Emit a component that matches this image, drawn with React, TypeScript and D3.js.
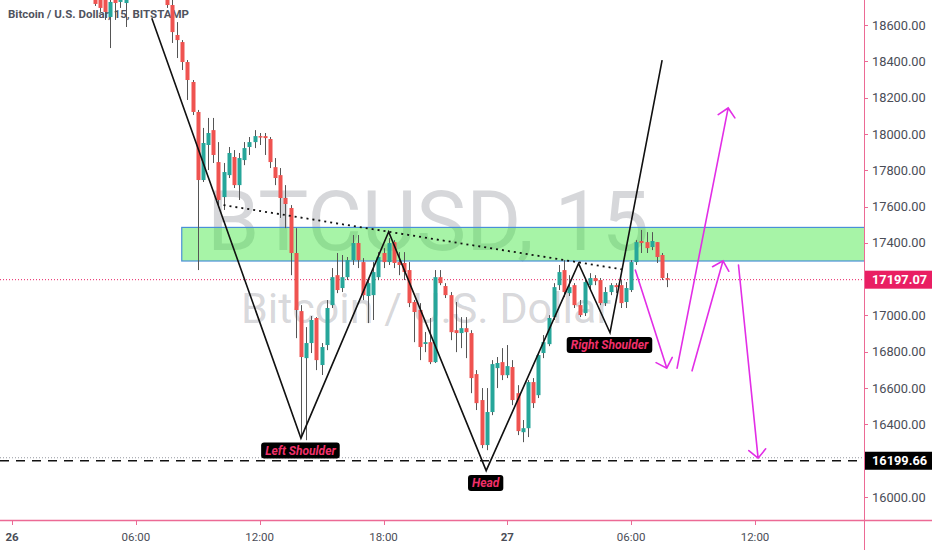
import { useEffect, useRef } from 'react';
import * as d3 from 'd3';

// BTC/USD 15-minute bars, bar index 0 = the 26th 00:00
const firstBar = 16;
const opens = [
  18793, 18765, 18738, 18644, 18749, 18727, 18721, 18790,
  18793, 18903, 18986, 18958, 19041, 18875, 18765, 18710,
  18545, 18506, 18396, 18286, 18121, 17746, 17939, 18021,
  17845, 17652, 17773, 17873, 17718, 17856, 17928, 17955,
  17988, 17988, 17972, 17817, 17773, 17647, 17592, 17344,
  17024, 16765, 16848, 16986, 16727, 16837, 17057, 17222,
  17151, 17211, 17305, 17399, 17294, 17107, 17112, 17211,
  17344, 17294, 17404, 17294, 17289, 17250, 17074, 17030,
  16843, 16853, 16743, 17211, 17162, 17112, 16919, 16903,
  16930, 16903, 16677, 16534, 16286, 16468, 16710, 16743,
  16671, 16716, 16572, 16357, 16379, 16633, 16561, 16793,
  16842, 16991, 17167, 17250, 17123, 17167, 17057, 17013,
  17167, 17206, 17195, 17068, 17129, 17167, 17167, 17074,
  17140, 17294, 17410, 17404, 17377, 17404, 17333, 17206,
];
const highs = [
  18848, 18820, 18793, 18765, 18782, 18793, 18804, 18900,
  18947, 19057, 19041, 19123, 19096, 18903, 18793, 18738,
  18616, 18517, 18407, 18297, 18132, 18033, 18088, 18088,
  17955, 17840, 17928, 17911, 17895, 17955, 17983, 18021,
  18005, 18005, 17983, 17867, 17812, 17718, 17608, 17481,
  17057, 16936, 16997, 16991, 16848, 17085, 17261, 17344,
  17333, 17322, 17443, 17443, 17316, 17195, 17294, 17349,
  17371, 17426, 17415, 17349, 17349, 17294, 17085, 17068,
  16909, 16986, 17250, 17250, 17178, 17129, 17074, 16991,
  16991, 16919, 16699, 16600, 16600, 16754, 16771, 16820,
  16837, 16754, 16616, 16424, 16644, 16655, 16798, 16892,
  17002, 17178, 17278, 17305, 17222, 17178, 17085, 17195,
  17233, 17222, 17206, 17156, 17178, 17178, 17195, 17184,
  17305, 17415, 17471, 17459, 17459, 17404, 17344, 17233,
];
const lows = [
  18705, 18672, 18628, 18473, 18628, 18694, 18589, 18760,
  18765, 18875, 18875, 18931, 18848, 18738, 18694, 18501,
  18418, 18352, 18187, 18104, 17250, 17735, 17801, 17840,
  17608, 17581, 17757, 17702, 17636, 17828, 17884, 17922,
  17939, 17884, 17812, 17718, 17537, 17481, 17222, 16875,
  16324, 16313, 16793, 16699, 16672, 16809, 17041, 17123,
  17129, 17195, 17278, 17261, 17085, 16958, 16975, 17195,
  17261, 17278, 17261, 17222, 17195, 17046, 16853, 16754,
  16798, 16732, 16738, 17167, 17096, 16864, 16798, 16820,
  16765, 16572, 16479, 16269, 16258, 16451, 16600, 16644,
  16655, 16506, 16341, 16302, 16330, 16490, 16545, 16765,
  16831, 16975, 17140, 17101, 17107, 17041, 16991, 16997,
  17140, 17167, 17057, 17052, 17112, 17123, 17041, 17041,
  17129, 17278, 17344, 17344, 17360, 17289, 17195, 17156,
];
const closes = [
  18716, 18694, 18672, 18727, 18721, 18754, 18765, 18850,
  18903, 19013, 18903, 19068, 18875, 18765, 18710, 18561,
  18517, 18396, 18297, 18121, 17746, 17950, 18005, 17884,
  17636, 17790, 17895, 17718, 17867, 17922, 17955, 17988,
  17980, 17977, 17845, 17757, 17647, 17614, 17344, 17030,
  16771, 16848, 16975, 16754, 16826, 17041, 17211, 17140,
  17211, 17305, 17399, 17305, 17112, 17178, 17239, 17322,
  17294, 17399, 17289, 17278, 17239, 17068, 17019, 16826,
  16853, 16743, 17211, 17178, 17112, 16908, 16903, 16930,
  16908, 16655, 16517, 16286, 16468, 16732, 16738, 16671,
  16721, 16534, 16363, 16379, 16633, 16517, 16782, 16853,
  16986, 17156, 17239, 17129, 17156, 17057, 17002, 17184,
  17206, 17189, 17068, 17129, 17167, 17156, 17068, 17151,
  17294, 17404, 17399, 17371, 17410, 17322, 17206, 17197.07,
];

const priceTicks = [16000, 16200, 16400, 16600, 16800, 17000, 17200, 17400, 17600, 17800, 18000, 18200, 18400, 18600];
const timeTickBars = [0, 24, 48, 72, 96, 120, 144];
const timeTickLabels = ['26', '06:00', '12:00', '18:00', '27', '06:00', '12:00'];
const timeTickBold = [true, false, false, false, true, false, false];

const lastPrice = 17197.07;
const targetPrice = 16199.66;

// drawings, in [bar, price]
const zoneStartBar = 32.9;
const zonePrices = [17300, 17485];
const neckline = [[41.0, 17608], [118.2, 17254]];
const zigzag = [
  [27.1, 18637], [56.0, 16324], [73.0, 17461], [91.9, 16145],
  [109.8, 17287], [115.9, 16905], [126.0, 18407],
];
const arrowStarts = [[120.8, 17250], [128.9, 16710], [131.8, 16695], [140.8, 17278]];
const arrowEnds = [[126.9, 16710], [138.8, 18143], [137.8, 17301], [144.6, 16214]];
const labelTexts = ['Left Shoulder', 'Head', 'Right Shoulder'];
const labelAnchors = [[55.9, 16256], [91.8, 16077], [115.8, 16837]];

export default function App() {
  const ref = useRef<SVGSVGElement>(null);

  useEffect(() => {
    if (!ref.current) return;
    const svg = d3.select(ref.current);
    svg.selectAll('*').remove();

    const W = 932, H = 550, paneW = 864, paneH = 520;
    const font = 'Roboto, "Noto Sans", sans-serif';
    const axisPink = '#ec6a95';
    const up = '#26a69a', down = '#ef5350';
    const magenta = '#e22ee6';

    const x = d3.scaleLinear().domain([0, 144]).range([12, 755]);
    const y = d3.scaleLinear().domain([16000, 18600]).range([497, 25]);

    svg.append('rect').attr('width', W).attr('height', H).attr('fill', '#fff');
    svg.append('defs').append('clipPath').attr('id', 'pane')
      .append('rect').attr('width', paneW).attr('height', paneH);
    const g = svg.append('g').attr('clip-path', 'url(#pane)');

    // Watermark
    g.append('text').attr('x', paneW / 2 - 4).attr('y', 250).attr('text-anchor', 'middle')
      .attr('font-family', font).attr('font-size', 84).attr('fill', 'rgba(120,123,134,0.3)')
      .text('BTCUSD, 15');
    g.append('text').attr('x', paneW / 2 - 6).attr('y', 323).attr('text-anchor', 'middle')
      .attr('font-family', font).attr('font-size', 43).attr('fill', 'rgba(120,123,134,0.3)')
      .text('Bitcoin / U.S. Dollar');

    // Title (sits under the candles)
    g.append('text').attr('x', 8).attr('y', 18).attr('font-family', font).attr('font-size', 11.5)
      .attr('font-weight', 'bold').attr('fill', '#50535e').text('Bitcoin / U.S. Dollar, 15, BITSTAMP');

    // Price lines
    g.append('line').attr('x1', 0).attr('x2', paneW).attr('y1', y(lastPrice)).attr('y2', y(lastPrice))
      .attr('stroke', '#e91e63').attr('stroke-width', 1).attr('stroke-dasharray', '1,2');
    g.append('line').attr('x1', 0).attr('x2', paneW).attr('y1', y(targetPrice) - 3).attr('y2', y(targetPrice) - 3)
      .attr('stroke', '#9598a1').attr('stroke-width', 1).attr('stroke-dasharray', '1,2');

    // Zone
    g.append('rect').attr('x', x(zoneStartBar)).attr('y', y(zonePrices[1]))
      .attr('width', paneW - x(zoneStartBar) + 2).attr('height', y(zonePrices[0]) - y(zonePrices[1]))
      .attr('fill', 'rgba(60,230,60,0.45)').attr('stroke', '#4a8fd8').attr('stroke-width', 1.2);

    // Candles
    const bars = d3.range(opens.length).map(k => ({
      i: firstBar + k, o: opens[k], h: highs[k], l: lows[k], c: closes[k],
    }));
    const cg = g.append('g');
    cg.selectAll('line.wick').data(bars).enter().append('line')
      .attr('x1', d => Math.round(x(d.i)) + 0.5).attr('x2', d => Math.round(x(d.i)) + 0.5)
      .attr('y1', d => y(d.h)).attr('y2', d => y(d.l))
      .attr('stroke', '#555').attr('stroke-width', 1);
    cg.selectAll('rect.body').data(bars).enter().append('rect')
      .attr('x', d => Math.round(x(d.i)) - 1.5).attr('width', 4)
      .attr('y', d => y(Math.max(d.o, d.c)))
      .attr('height', d => Math.max(1.2, Math.abs(y(d.o) - y(d.c))))
      .attr('fill', d => (d.c >= d.o ? up : down));

    // Target dashed line
    g.append('line').attr('x1', 0).attr('x2', paneW).attr('y1', y(targetPrice)).attr('y2', y(targetPrice))
      .attr('stroke', '#111').attr('stroke-width', 1.6).attr('stroke-dasharray', '9,7');

    // Neckline
    const line = d3.line<number[]>().x(d => x(d[0])).y(d => y(d[1]));
    g.append('path').attr('d', line(neckline)).attr('fill', 'none')
      .attr('stroke', '#111').attr('stroke-width', 1.8).attr('stroke-dasharray', '2,4');

    // Zigzag
    g.append('path').attr('d', line(zigzag)).attr('fill', 'none')
      .attr('stroke', '#111').attr('stroke-width', 1.6).attr('stroke-linejoin', 'miter');

    // Arrows
    arrowStarts.forEach((s, k) => {
      const e = arrowEnds[k];
      const x0 = x(s[0]), y0 = y(s[1]), x1 = x(e[0]), y1 = y(e[1]);
      const a = Math.atan2(y0 - y1, x0 - x1), L = 12, sp = Math.PI / 4;
      const d = `M${x0},${y0}L${x1},${y1}`
        + `M${x1 + L * Math.cos(a + sp)},${y1 + L * Math.sin(a + sp)}L${x1},${y1}`
        + `L${x1 + L * Math.cos(a - sp)},${y1 + L * Math.sin(a - sp)}`;
      g.append('path').attr('d', d).attr('fill', 'none').attr('stroke', magenta)
        .attr('stroke-width', 1.6).attr('stroke-linecap', 'round');
    });

    // Pattern labels
    labelTexts.forEach((t, k) => {
      const cx = x(labelAnchors[k][0]), cy = y(labelAnchors[k][1]);
      const lg = g.append('g');
      const rect = lg.append('rect').attr('fill', '#000').attr('rx', 3);
      const txt = lg.append('text').attr('x', cx).attr('y', cy).attr('dy', '0.36em')
        .attr('text-anchor', 'middle').attr('font-family', font).attr('font-size', 12)
        .attr('font-weight', 'bold').attr('font-style', 'italic').attr('fill', '#f0306a').text(t);
      const w = (txt.node() as SVGTextElement).getComputedTextLength();
      rect.attr('x', cx - w / 2 - 4).attr('y', cy - 8).attr('width', w + 8).attr('height', 16);
    });

    // Axes
    svg.append('line').attr('x1', paneW + 0.5).attr('x2', paneW + 0.5).attr('y1', 0).attr('y2', H)
      .attr('stroke', axisPink).attr('stroke-width', 1);
    svg.append('line').attr('x1', 0).attr('x2', W).attr('y1', paneH + 0.5).attr('y2', paneH + 0.5)
      .attr('stroke', axisPink).attr('stroke-width', 1.5);

    const ya = svg.append('g');
    priceTicks.forEach(p => {
      ya.append('line').attr('x1', paneW).attr('x2', paneW + 4).attr('y1', Math.round(y(p)) + 0.5)
        .attr('y2', Math.round(y(p)) + 0.5).attr('stroke', axisPink);
      ya.append('text').attr('x', paneW + 8).attr('y', y(p)).attr('dy', '0.36em')
        .attr('font-family', font).attr('font-size', 12.8).attr('fill', '#4a4d57').text(p.toFixed(2));
    });

    const priceTag = (p: number, fill: string) => {
      ya.append('rect').attr('x', paneW + 1).attr('y', y(p) - 9).attr('width', W - paneW).attr('height', 18)
        .attr('fill', fill);
      ya.append('text').attr('x', paneW + 8).attr('y', y(p)).attr('dy', '0.36em')
        .attr('font-family', font).attr('font-size', 12.8).attr('font-weight', 'bold')
        .attr('fill', '#fff').text(p.toFixed(2));
    };
    priceTag(lastPrice, '#e91e63');
    priceTag(targetPrice, '#000');

    const xa = svg.append('g');
    timeTickBars.forEach((b, k) => {
      xa.append('line').attr('x1', Math.round(x(b)) + 0.5).attr('x2', Math.round(x(b)) + 0.5)
        .attr('y1', paneH).attr('y2', paneH + 5).attr('stroke', axisPink);
      xa.append('text').attr('x', x(b)).attr('y', 537).attr('dy', '0.36em').attr('text-anchor', 'middle')
        .attr('font-family', font).attr('font-size', 11.5)
        .attr('font-weight', timeTickBold[k] ? 'bold' : 'normal')
        .attr('fill', '#4a4d57').text(timeTickLabels[k]);
    });
  }, []);

  return (
    <svg ref={ref} width={932} height={550}
      style={{ position: 'absolute', left: 0, top: 0, display: 'block' }} />
  );
}
